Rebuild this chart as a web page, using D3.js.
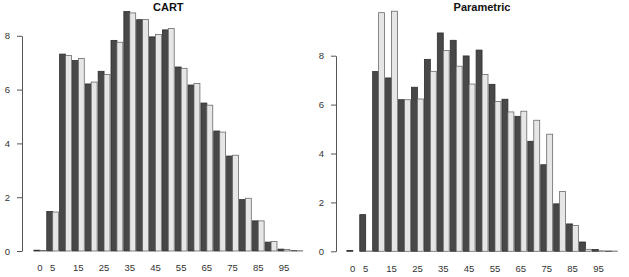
<!DOCTYPE html>
<html lang="en">
<head>
    <meta charset="UTF-8">
    <title>CART vs Parametric</title>
    <script src="https://d3js.org/d3.v7.min.js"></script>
    <style>
        body { margin: 0; background: #fff; }
        svg { display: block; font-family: "Liberation Sans", Arial, sans-serif; }
    </style>
</head>
<body>
    <svg width="629" height="277"></svg>
    <script>
        // age groups (5 year steps) and the labels R actually printed
        var ages = [0, 5, 10, 15, 20, 25, 30, 35, 40, 45, 50, 55, 60, 65, 70, 75, 80, 85, 90, 95, 100];
        var ageLabels = [0, 5, 15, 25, 35, 45, 55, 65, 75, 85, 95];
        var yTicks = [0, 2, 4, 6, 8];

        // observed (dark) and synthetic (light) percentages
        var cartObserved = [0.03, 1.47, 7.32, 7.08, 6.21, 6.68, 7.83, 8.90, 8.60, 7.96, 8.22,
                            6.84, 6.17, 5.50, 4.46, 3.53, 1.91, 1.12, 0.33, 0.07, 0.01];
        var cartSynthetic = [0.02, 1.45, 7.27, 7.16, 6.28, 6.56, 7.76, 8.85, 8.61, 8.05, 8.27,
                             6.79, 6.23, 5.42, 4.42, 3.56, 1.96, 1.12, 0.35, 0.06, 0.01];
        var paramObserved = [0.03, 1.50, 7.35, 7.09, 6.20, 6.71, 7.85, 8.93, 8.63, 7.99, 8.23,
                             6.83, 6.22, 5.52, 4.50, 3.54, 1.94, 1.12, 0.38, 0.07, 0.01];
        var paramSynthetic = [0.00, 0.01, 9.76, 9.82, 6.20, 6.23, 7.36, 8.21, 7.57, 6.84, 7.23,
                              6.13, 5.70, 5.73, 5.36, 4.79, 2.45, 1.06, 0.08, 0.02, 0.01];

        var svg = d3.select('svg');

        function drawPanel(title, observed, synthetic, xRange, yRange, axisX) {
            var x = d3.scaleBand().domain(ages).range(xRange)
                .paddingInner(0.08).paddingOuter(0.04);
            var inner = d3.scaleBand().domain([0, 1]).range([0, x.bandwidth()]);
            var y = d3.scaleLinear().domain([0, 8]).range(yRange);

            var rows = ages.map(function(a, i) {
                return { age: a, vals: [observed[i], synthetic[i]] };
            });

            var g = svg.append('g');

            g.selectAll('.grp')
                .data(rows)
                .enter().append('g')
                .attr('class', 'grp')
                .attr('transform', function(d) { return 'translate(' + x(d.age) + ',0)'; })
                .selectAll('rect')
                .data(function(d) { return d.vals; })
                .enter().append('rect')
                .attr('x', function(d, i) { return inner(i); })
                .attr('y', function(d) { return y(d); })
                .attr('width', inner.bandwidth())
                .attr('height', function(d) { return y(0) - y(d); })
                .attr('fill', function(d, i) { return i === 0 ? '#484848' : '#e6e6e6'; })
                .attr('stroke', function(d, i) { return i === 0 ? '#2e2e2e' : '#6a6a6a'; })
                .attr('stroke-width', 0.8);

            // y axis, only spanning the tick range like base R
            var ya = g.append('g')
                .attr('transform', 'translate(' + axisX + ',0)')
                .call(d3.axisLeft(y).tickValues(yTicks).tickSize(5).tickSizeOuter(0).tickPadding(7));
            ya.selectAll('path, line').attr('stroke', '#555');
            ya.selectAll('text').attr('fill', '#333').style('font-size', '9.5px')
                .style('font-family', '"Liberation Sans", Arial, sans-serif');

            // x labels below the bars, no axis line
            var xa = g.append('g')
                .attr('transform', 'translate(0,' + (y(0) + 13.5) + ')')
                .call(d3.axisBottom(x).tickValues(ageLabels).tickSize(0).tickPadding(0));
            xa.select('.domain').remove();
            xa.selectAll('text').attr('fill', '#333').style('font-size', '9.5px')
                .style('font-family', '"Liberation Sans", Arial, sans-serif');

            g.append('text')
                .attr('x', (xRange[0] + xRange[1]) / 2)
                .attr('y', 10.5)
                .attr('text-anchor', 'middle')
                .style('font-size', '11px')
                .style('font-weight', 'bold')
                .attr('fill', '#111')
                .text(title);
        }

        drawPanel('CART', cartObserved, cartSynthetic, [33.4, 303.2], [251, 35.8], 22);
        drawPanel('Parametric', paramObserved, paramSynthetic, [346.3, 617.8], [251.3, 55.7], 336);
    </script>
</body>
</html>
